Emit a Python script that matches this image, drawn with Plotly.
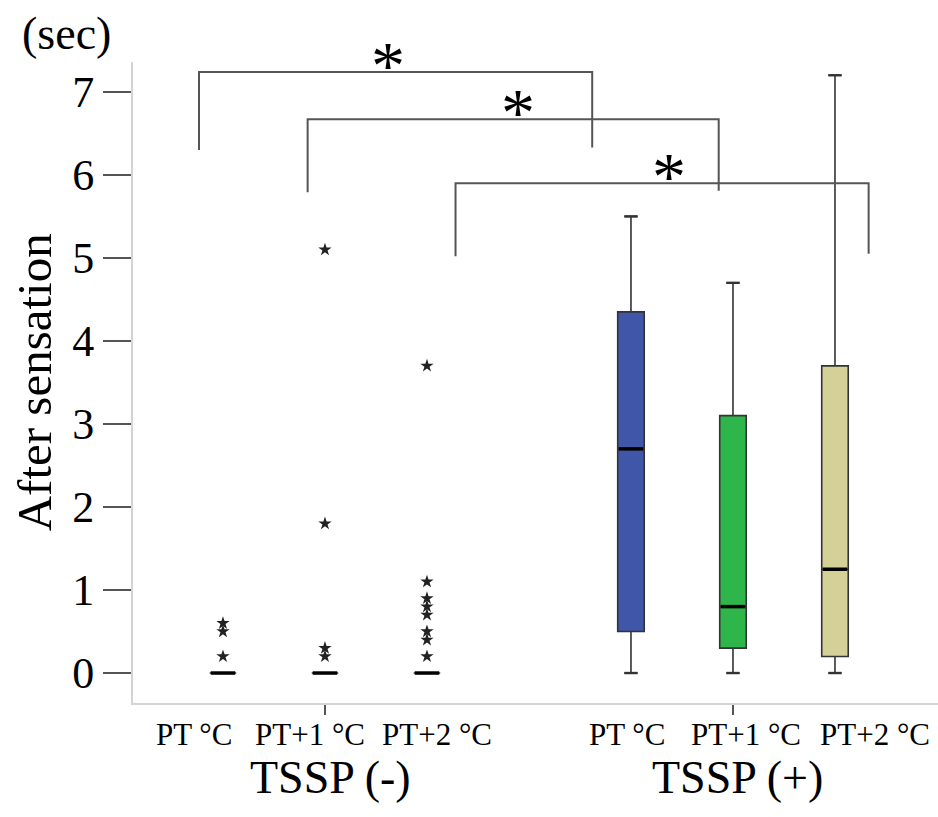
import plotly.graph_objects as go

# ---- data -------------------------------------------------------------
positions = [0, 1, 2, 4, 5, 6]
category_labels = ["PT °C", "PT+1 °C", "PT+2 °C", "PT °C", "PT+1 °C", "PT+2 °C"]
group_labels = ["TSSP (-)", "TSSP (+)"]

q1 = [0, 0, 0, 0.5, 0.3, 0.2]
median = [0, 0, 0, 2.7, 0.8, 1.25]
q3 = [0, 0, 0, 4.35, 3.1, 3.7]
lower_fence = [0, 0, 0, 0, 0, 0]
upper_fence = [0, 0, 0, 5.5, 4.7, 7.2]

outliers = [
    [0.2, 0.5, 0.6],
    [0.2, 0.3, 1.8, 5.1],
    [0.2, 0.4, 0.5, 0.7, 0.8, 0.9, 1.1, 3.7],
    [],
    [],
    [],
]

fill_colors = ["#ffffff", "#ffffff", "#ffffff", "#3f56a9", "#2fb64a", "#d5d097"]

# ---- styling constants -------------------------------------------------
FONT = "Liberation Serif"
BOX_W = 0.26
CAP_W = 0.13
label_x = [-0.28, 0.85, 2.10, 3.96, 5.13, 6.39]
group_x = [1.05, 5.04]

# significance brackets: (x_left, x_right, y_top, y_left_end, y_right_end, star_x)
brackets = [
    (-0.235, 3.62, 7.24, 6.30, 6.33, 1.62),
    (0.83, 4.86, 6.67, 5.79, 5.81, 2.89),
    (2.28, 6.33, 5.90, 5.02, 5.05, 4.37),
]

fig = go.Figure()

for i, p in enumerate(positions):
    fig.add_trace(go.Box(
        x=[p], q1=[q1[i]], median=[median[i]], q3=[q3[i]],
        lowerfence=[lower_fence[i]], upperfence=[upper_fence[i]],
        width=BOX_W, whiskerwidth=0.5, boxpoints=False,
        fillcolor=fill_colors[i],
        line=dict(color="#333333", width=1.6),
        showlegend=False, hoverinfo="skip",
    ))
    # whisker caps
    if upper_fence[i] > lower_fence[i]:
        for fence in (lower_fence[i], upper_fence[i]):
            fig.add_trace(go.Scatter(
                x=[p - CAP_W / 2, p + CAP_W / 2], y=[fence, fence],
                mode="lines", line=dict(color="#333333", width=2.4),
                showlegend=False, hoverinfo="skip",
            ))
    # heavy median bar
    fig.add_trace(go.Scatter(
        x=[p - BOX_W / 2 + 0.01, p + BOX_W / 2 - 0.01], y=[median[i], median[i]],
        mode="lines", line=dict(color="black", width=3.5),
        showlegend=False, hoverinfo="skip",
    ))
    if outliers[i]:
        fig.add_trace(go.Scatter(
            x=[p] * len(outliers[i]), y=outliers[i], mode="markers",
            marker=dict(symbol="star", size=10, color="#222222", line=dict(width=0)),
            showlegend=False, hoverinfo="skip",
        ))

shapes = []
annotations = []
for xl, xr, yt, yl, yr, sx in brackets:
    path = f"M {xl},{yl} L {xl},{yt} L {xr},{yt} L {xr},{yr}"
    shapes.append(dict(type="path", path=path, xref="x", yref="y",
                       line=dict(color="#555555", width=2)))
    annotations.append(dict(x=sx, y=yt, xref="x", yref="y", text="*",
                            showarrow=False, yanchor="bottom", yshift=-33,
                            font=dict(family=FONT, size=68, color="black")))

for lx, txt in zip(label_x, category_labels):
    annotations.append(dict(x=lx, y=-0.005, xref="x", yref="paper", text=txt,
                            showarrow=False, yanchor="top", yshift=-9,
                            font=dict(family=FONT, size=31, color="black")))

for gx, txt in zip(group_x, group_labels):
    annotations.append(dict(x=gx, y=-0.005, xref="x", yref="paper", text=txt,
                            showarrow=False, yanchor="top", yshift=-44,
                            font=dict(family=FONT, size=46, color="black")))

annotations.append(dict(x=-0.083, y=1.044, xref="paper", yref="paper", text="(sec)",
                        showarrow=False, xanchor="center", yanchor="middle",
                        font=dict(family=FONT, size=46, color="black")))
annotations.append(dict(x=-0.122, y=0.5, xref="paper", yref="paper",
                        text="After sensation", textangle=-90,
                        showarrow=False, xanchor="center", yanchor="middle",
                        font=dict(family=FONT, size=49, color="black")))

fig.update_layout(
    width=938, height=817,
    margin=dict(l=133, r=0, t=62, b=114),
    plot_bgcolor="white", paper_bgcolor="white",
    shapes=shapes, annotations=annotations,
    xaxis=dict(range=[-0.882, 7.01], tickvals=[1, 5], ticktext=["", ""],
               ticks="outside", ticklen=10, tickwidth=2, tickcolor="#555555",
               showline=True, linecolor="#d4d4d4", linewidth=2,
               showgrid=False, zeroline=False),
    yaxis=dict(range=[-0.361, 7.36], tickvals=list(range(8)),
               ticks="outside", ticklen=28, tickwidth=2, tickcolor="#555555",
               showline=True, linecolor="#d4d4d4", linewidth=2,
               showgrid=False, zeroline=False,
               tickfont=dict(family=FONT, size=44, color="black")),
)

fig.write_html("out.html")
